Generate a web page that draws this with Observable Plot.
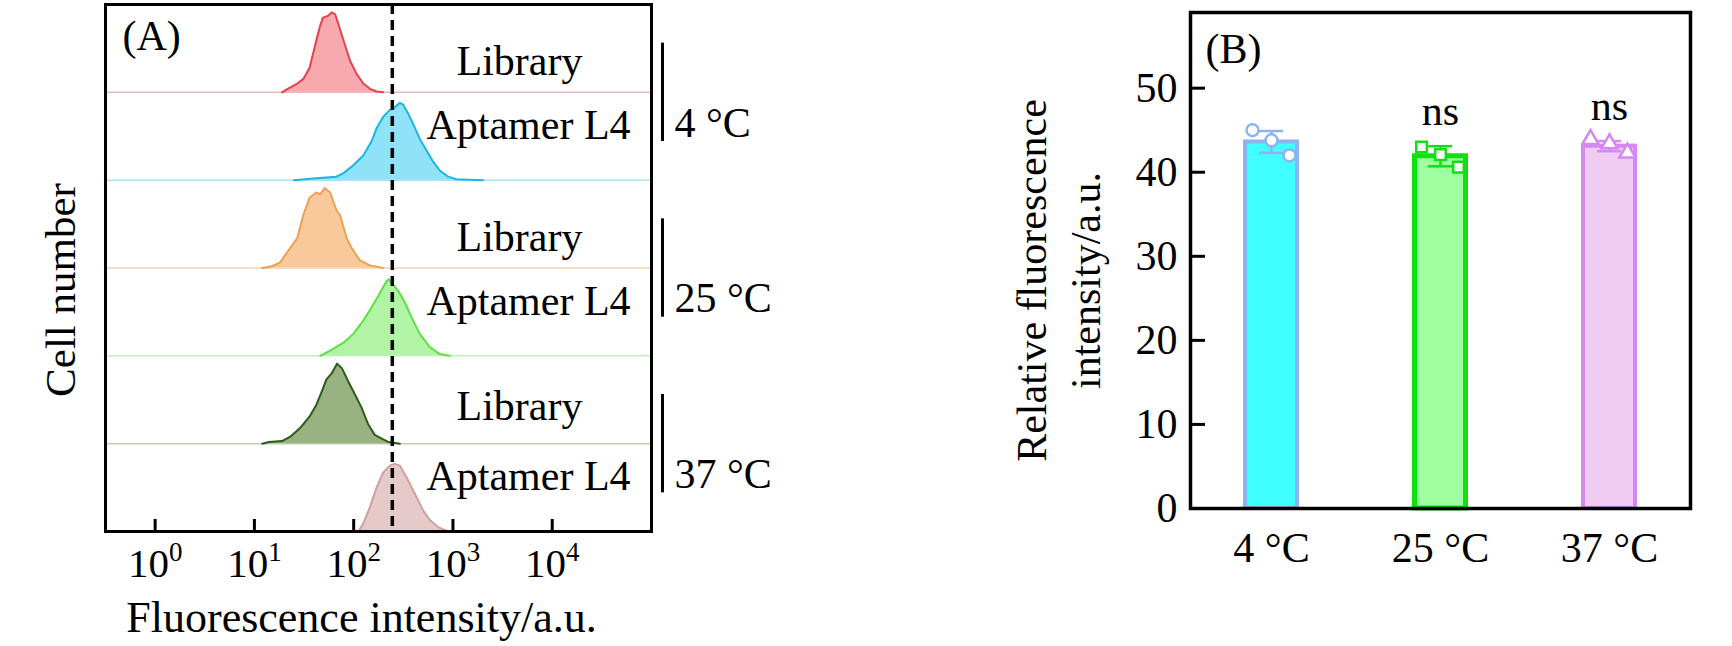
<!DOCTYPE html>
<html><head><meta charset="utf-8">
<script src="https://cdn.jsdelivr.net/npm/d3@7"></script>
<script src="https://cdn.jsdelivr.net/npm/@observablehq/plot@0.6"></script>
<style>
body{margin:0;background:#fff;}
#wrap{position:relative;width:1732px;height:646px;overflow:hidden;background:#fff;}
#a{position:absolute;left:0;top:0;}
#b{position:absolute;left:960px;top:0;}
</style></head><body><div id="wrap"><div id="a"></div><div id="b"></div></div>
<script>
// ---------------- Panel A data (flow cytometry histograms) ----------------
const xTicks = [1, 10, 100, 1000, 10000];
const cutoff = 245;
const rowLabels = ["Library", "Aptamer L4", "Library", "Aptamer L4", "Library", "Aptamer L4"];
const groupLabels = ["4 °C", "25 °C", "37 °C"];

// fluorescence intensity (a.u.) and cell count (% of row height)
const lib4Int = [19, 21, 27, 31, 36, 42, 46, 49, 55, 60, 65, 70, 79, 92, 107, 125, 146, 170, 198];
const lib4Cnt = [0, 3, 10, 15, 28, 59, 76, 85, 87, 91, 89, 78, 59, 36, 21, 10, 4, 1, 0];
const apt4Int = [25, 39, 67, 79, 99, 125, 151, 170, 198, 231, 259, 292, 315, 353, 397, 463, 541, 631, 736, 893, 1084, 2009];
const apt4Cnt = [0, 2, 4, 8, 17, 28, 44, 59, 72, 80, 83, 88, 86, 76, 64, 47, 34, 21, 11, 4, 1, 0];
const lib25Int = [12, 15, 18, 23, 27, 31, 36, 42, 46, 51, 58, 67, 73, 85, 95, 115, 146, 198];
const lib25Cnt = [0, 2, 6, 23, 34, 60, 80, 86, 84, 91, 86, 66, 60, 34, 23, 9, 3, 0];
const apt25Int = [46, 58, 79, 99, 125, 151, 177, 198, 214, 226, 250, 281, 327, 382, 463, 585, 736, 929];
const apt25Cnt = [0, 6, 15, 25, 40, 55, 68, 78, 85, 87, 81, 74, 61, 44, 25, 10, 2, 0];
const lib37Int = [12, 14, 19, 23, 29, 36, 42, 48, 53, 60, 68, 76, 88, 103, 120, 140, 163, 198, 223, 292];
const lib37Cnt = [0, 2, 3, 8, 18, 31, 44, 60, 73, 80, 91, 86, 71, 56, 41, 22, 10, 5, 2, 0];
const apt37Int = [111, 125, 146, 170, 198, 231, 259, 292, 340, 413, 500, 585, 708, 861, 1002];
const apt37Cnt = [0, 9, 28, 50, 67, 75, 77, 75, 62, 43, 24, 13, 5, 1, 0];

// ---------------- Panel B data (bar chart) ----------------
const temps = ["4 °C", "25 °C", "37 °C"];
const means = [43.6, 41.9, 43.1];
const errs = [1.3, 1.2, 0.6];
const rep1 = [45.0, 43.0, 43.9];
const rep2 = [43.8, 42.1, 43.4];
const rep3 = [42.0, 40.6, 42.3];
const sig = ["", "ns", "ns"];
const yTicksB = [0, 10, 20, 30, 40, 50];

// ---------------- styles ----------------
const FONT = "Liberation Serif, Times New Roman, serif";
const rowFill = ["#f7a9ad", "#8fe2f7", "#f9c99c", "#b2f4a6", "#98b282", "#e6caca"];
const rowStroke = ["#e8414f", "#19b7e7", "#efa152", "#5fe043", "#2f5c1c", "#d29f9f"];
const rowBase = ["#f5b5bd", "#a9e3f3", "#f7cfae", "#c6efbf", "#bcd2ac", "#d29f9f"];
const labelLift = [0.35, 0.62, 0.35, 0.62, 0.42, 0.62];
const barFill = ["#40ffff", "#a0ffa0", "#f0ccf4"];
const barStroke = ["#8cb4f0", "#10e010", "#d488f0"];
const barSW = [4, 5, 4];
const symbols = ["circle", "square", "triangle"];

// ---------------- Panel A ----------------
const rowsInt = [lib4Int, apt4Int, lib25Int, apt25Int, lib37Int, apt37Int];
const rowsCnt = [lib4Cnt, apt4Cnt, lib25Cnt, apt25Cnt, lib37Cnt, apt37Cnt];
const nRows = rowsInt.length;
const xDomain = [Math.pow(10, -0.5), 1e5];

const marksA = [];
for (let i = 0; i < nRows - 1; i++) {
  marksA.push(Plot.ruleY([nRows - 1 - i], {stroke: rowBase[i], strokeWidth: 1.5}));
}
for (let i = 0; i < nRows; i++) {
  const base = nRows - 1 - i;
  const data = rowsInt[i].map((x, j) => ({x, base, top: base + rowsCnt[i][j] / 100}));
  marksA.push(Plot.areaY(data, {x: "x", y1: "base", y2: "top", fill: rowFill[i]}));
  marksA.push(Plot.lineY(data, {x: "x", y: "top", stroke: rowStroke[i], strokeWidth: 2}));
}
marksA.push(Plot.ruleX([cutoff], {stroke: "black", strokeWidth: 3.5, strokeDasharray: "10,6"}));
const rowText = rowLabels.map((t, i) => ({t, y: nRows - 1 - i + labelLift[i]}));
marksA.push(Plot.text(rowText.filter(d => d.t === "Library"), {
  frameAnchor: "right", dx: -132, y: "y", text: "t", textAnchor: "middle", fontSize: 42, fill: "black"
}));
marksA.push(Plot.text(rowText.filter(d => d.t !== "Library"), {
  frameAnchor: "right", dx: -123, y: "y", text: "t", textAnchor: "middle", fontSize: 42, fill: "black"
}));
const groups = groupLabels.map((label, g) => ({label, c: nRows - 1 - 2 * g}));
marksA.push(Plot.ruleX(groups, {x: () => xDomain[1], dx: 11, y1: d => d.c - 0.56, y2: d => d.c + 0.56, stroke: "black", strokeWidth: 3}));
marksA.push(Plot.text(groups, {frameAnchor: "right", dx: 23, y: d => d.c - 0.35, text: "label", textAnchor: "start", fontSize: 42, fill: "black"}));
marksA.push(Plot.axisX({ticks: xTicks, tickSize: 0, tickPadding: 16, fontSize: 41, label: null, tickFormat: d => "10^" + Math.round(Math.log10(d))}));
marksA.push(Plot.axisX({ticks: xTicks, tickSize: -12, tickFormat: () => "", label: null, strokeWidth: 3}));
marksA.push(Plot.frame({stroke: "black", strokeWidth: 3}));
marksA.push(Plot.text(["(A)"], {frameAnchor: "top-left", dx: 17, dy: 16, lineAnchor: "top", textAnchor: "start", fontSize: 42}));
marksA.push(Plot.text(["Cell number"], {frameAnchor: "left", dx: -44, dy: 22, rotate: -90, textAnchor: "middle", fontSize: 43}));
marksA.push(Plot.text(["Fluorescence intensity/a.u."], {frameAnchor: "bottom", dx: -17, dy: 100, textAnchor: "middle", fontSize: 44}));

const plotA = Plot.plot({
  width: 800, height: 646,
  marginLeft: 105, marginRight: 149, marginTop: 4, marginBottom: 115,
  x: {type: "log", domain: xDomain},
  y: {domain: [0, nRows], axis: null},
  style: {fontFamily: FONT, fontSize: "42px", background: "white", color: "black", overflow: "visible"},
  marks: marksA
});
plotA.querySelectorAll("text").forEach(t => {
  const m = /^10\^(-?\d)$/.exec(t.textContent);
  if (m) {
    t.textContent = "10";
    const ts = document.createElementNS("http://www.w3.org/2000/svg", "tspan");
    ts.setAttribute("dy", "-16");
    ts.setAttribute("font-size", "27");
    ts.textContent = m[1];
    t.appendChild(ts);
  }
});
document.getElementById("a").appendChild(plotA);

// ---------------- Panel B ----------------
const barData = temps.map((temp, i) => ({temp, i, mean: means[i], err: errs[i], r1: rep1[i], r2: rep2[i], r3: rep3[i], sig: sig[i]}));
const marksB = [
  Plot.axisY({ticks: yTicksB, tickSize: 0, tickPadding: 13, fontSize: 42, label: null}),
  Plot.axisX({tickSize: 0, tickPadding: 24, fontSize: 42, label: null})
];
barData.forEach((d, i) => {
  const one = [d];
  const sw = barSW[i];
  marksB.push(Plot.barY(one, {x: "temp", y: "mean", fill: barFill[i], stroke: barStroke[i], strokeWidth: sw, insetLeft: sw / 2, insetRight: sw / 2}));
  marksB.push(Plot.ruleX(one, {x: "temp", y1: v => v.mean - v.err, y2: v => v.mean + v.err, stroke: barStroke[i], strokeWidth: 2.5}));
  marksB.push(Plot.tickY(one, {x: "temp", y: v => v.mean + v.err, stroke: barStroke[i], strokeWidth: 2.5, insetLeft: 16, insetRight: 16}));
  marksB.push(Plot.tickY(one, {x: "temp", y: v => v.mean - v.err, stroke: barStroke[i], strokeWidth: 2.5, insetLeft: 16, insetRight: 16}));
  [["r1", -19], ["r2", 0], ["r3", 18]].forEach(([k, dx]) => {
    marksB.push(Plot.dot(one, {x: "temp", y: k, dx, symbol: () => symbols[i], r: 6, stroke: barStroke[i], strokeWidth: 2.5, fill: "white"}));
  });
});
marksB.push(Plot.text(barData, {x: "temp", y: d => d.mean + d.err, dy: -35, text: "sig", fontSize: 42}));
marksB.push(Plot.axisY({ticks: yTicksB, tickSize: -15, tickFormat: () => "", label: null, strokeWidth: 3}));
marksB.push(Plot.frame({stroke: "black", strokeWidth: 3.5}));
marksB.push(Plot.text(["(B)"], {frameAnchor: "top-left", dx: 15, dy: 21, lineAnchor: "top", textAnchor: "start", fontSize: 42}));
marksB.push(Plot.text(["Relative fluorescence\nintensity/a.u."], {frameAnchor: "left", dx: -135, dy: 20, rotate: -90, textAnchor: "middle", fontSize: 42, lineHeight: 1.3}));

const plotB = Plot.plot({
  width: 772, height: 646,
  marginLeft: 230, marginRight: 42, marginTop: 12, marginBottom: 138,
  x: {type: "band", domain: temps, paddingInner: 0.67, paddingOuter: 0.306},
  y: {domain: [0, 59]},
  symbol: {type: "identity"},
  style: {fontFamily: FONT, fontSize: "42px", background: "white", color: "black", overflow: "visible"},
  marks: marksB
});
document.getElementById("b").appendChild(plotB);
</script></body></html>
